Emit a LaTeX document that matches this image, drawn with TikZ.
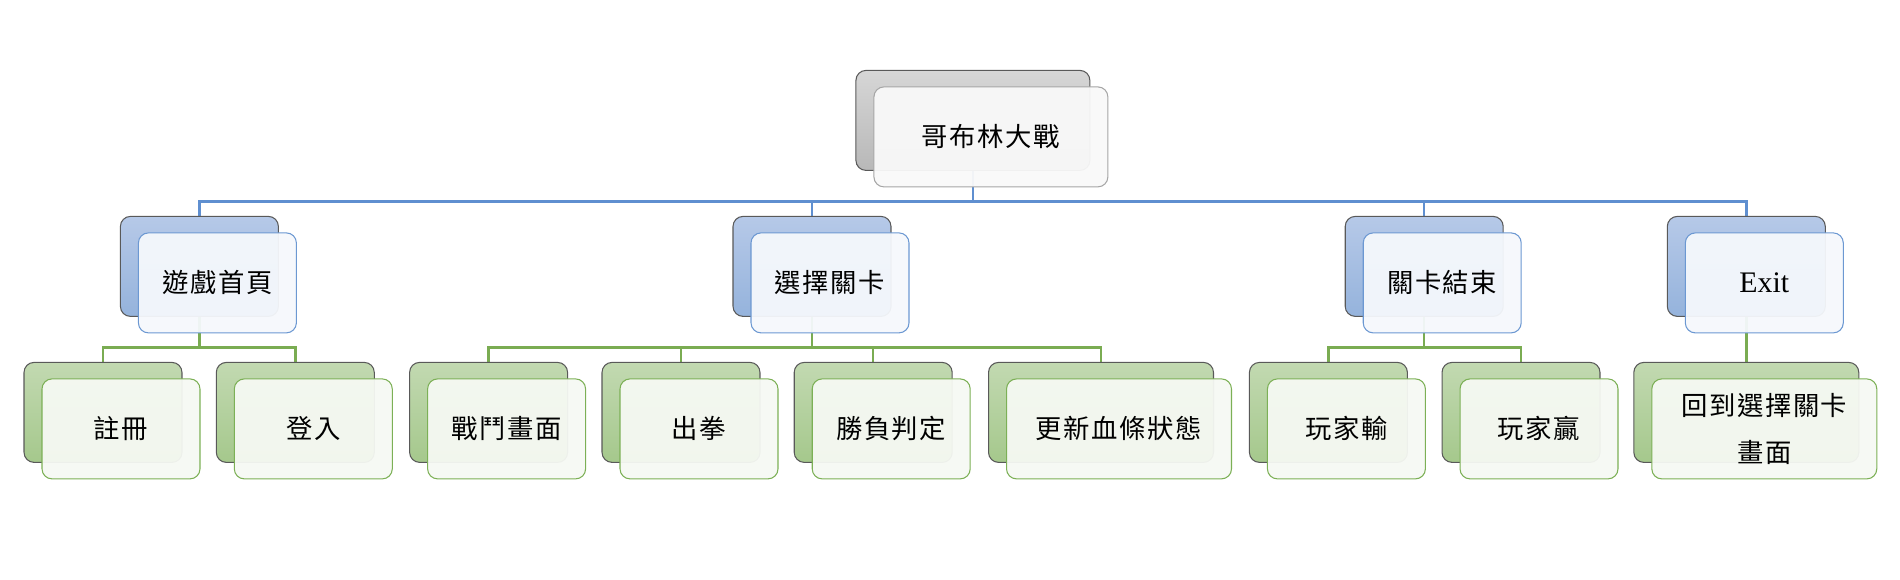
\documentclass[tikz,border=0pt]{standalone}
\usepackage{fontspec}
\setmainfont{Liberation Serif}
\newfontfamily\cjk[LetterSpace=6]{Noto Sans CJK TC}
\usetikzlibrary{backgrounds}
\definecolor{graytop}{HTML}{D6D6D6}
\definecolor{graybot}{HTML}{B8B8B8}
\definecolor{grayedge}{HTML}{A6A6A6}
\definecolor{grayfill}{HTML}{F9F9F9}
\definecolor{bluetop}{HTML}{B6C9E8}
\definecolor{bluebot}{HTML}{95B3DC}
\definecolor{blueedge}{HTML}{6C98D2}
\definecolor{bluefill}{HTML}{F5F8FC}
\definecolor{bluelink}{HTML}{5F8FD0}
\definecolor{greentop}{HTML}{C2D9B1}
\definecolor{greenbot}{HTML}{A5C88C}
\definecolor{greenedge}{HTML}{7CB056}
\definecolor{greenfill}{HTML}{F6F9F3}
\definecolor{greenlink}{HTML}{7AAC52}
\tikzset{
  box/.style={rounded corners=0.2cm, minimum height=2cm, inner sep=0pt, line width=0.6pt},
  backbox/.style={box, draw=black!65},
  frontbox/.style={box, fill opacity=0.95, text opacity=1, align=center,
    font=\fontsize{15}{26.7}\selectfont\cjk},
  grayback/.style={backbox, top color=graytop, bottom color=graybot, minimum width=4.68cm},
  grayfront/.style={frontbox, draw=grayedge, fill=grayfill, minimum width=4.68cm},
  blueback/.style={backbox, top color=bluetop, bottom color=bluebot, minimum width=3.16cm},
  bluefront/.style={frontbox, draw=blueedge, fill=bluefill, minimum width=3.16cm},
  greenback/.style={backbox, top color=greentop, bottom color=greenbot, minimum width=3.16cm},
  greenfront/.style={frontbox, draw=greenedge, fill=greenfill, minimum width=3.16cm},
  wide/.style={minimum width=4.5cm},
  bluewire/.style={draw=bluelink, line width=1.4pt},
  greenwire/.style={draw=greenlink, line width=1.4pt},
  lift/.style={shift={(18,16.5)}}
}

\begin{document}
\begin{tikzpicture}[x=0.02cm, y=-0.02cm]
\useasboundingbox (0,0) rectangle (1900,580);
\node[grayback] (root) at (972.9,120.4) {};
\node[blueback] (home) at (199.4,266.4) {};
\node[blueback] (stage) at (812,266.4) {};
\node[blueback] (result) at (1424.2,266.4) {};
\node[blueback] (exit) at (1746.3,266.4) {};
\node[greenback] (reg) at (103,412.4) {};
\node[greenback] (login) at (295.3,412.4) {};
\node[greenback] (fight) at (488.6,412.4) {};
\node[greenback] (punch) at (681,412.4) {};
\node[greenback] (judge) at (873.2,412.4) {};
\node[greenback, wide] (hp) at (1101,412.4) {};
\node[greenback] (lose) at (1328.4,412.4) {};
\node[greenback] (win) at (1521,412.4) {};
\node[greenback, wide] (again) at (1746.3,412.4) {};

\begin{scope}[on background layer]
\foreach \c in {home,stage,result,exit}
  \draw[bluewire] (root.south) -- ++(0,30.5) -| (\c.north);
\foreach \c in {reg,login}
  \draw[greenwire] (home.south) -- ++(0,30.5) -| (\c.north);
\foreach \c in {fight,punch,judge,hp}
  \draw[greenwire] (stage.south) -- ++(0,30.5) -| (\c.north);
\foreach \c in {lose,win}
  \draw[greenwire] (result.south) -- ++(0,30.5) -| (\c.north);
\draw[greenwire] (exit.south) -- (again.north);
\end{scope}

\node[grayfront] (rootf) at ([lift]root) {哥布林大戰};
\node[bluefront] (homef) at ([lift]home) {遊戲首頁};
\node[bluefront] (stagef) at ([lift]stage) {選擇關卡};
\node[bluefront] (resultf) at ([lift]result) {關卡結束};
\node[bluefront] (exitf) at ([lift]exit) {{\rmfamily\fontsize{17}{20}\selectfont Exit}};
\node[greenfront] (regf) at ([lift]reg) {註冊};
\node[greenfront] (loginf) at ([lift]login) {登入};
\node[greenfront] (fightf) at ([lift]fight) {戰鬥畫面};
\node[greenfront] (punchf) at ([lift]punch) {出拳};
\node[greenfront] (judgef) at ([lift]judge) {勝負判定};
\node[greenfront, wide] (hpf) at ([lift]hp) {更新血條狀態};
\node[greenfront] (losef) at ([lift]lose) {玩家輸};
\node[greenfront] (winf) at ([lift]win) {玩家贏};
\node[greenfront, wide] (againf) at ([lift]again) {回到選擇關卡\\畫面};
\end{tikzpicture}
\end{document}
